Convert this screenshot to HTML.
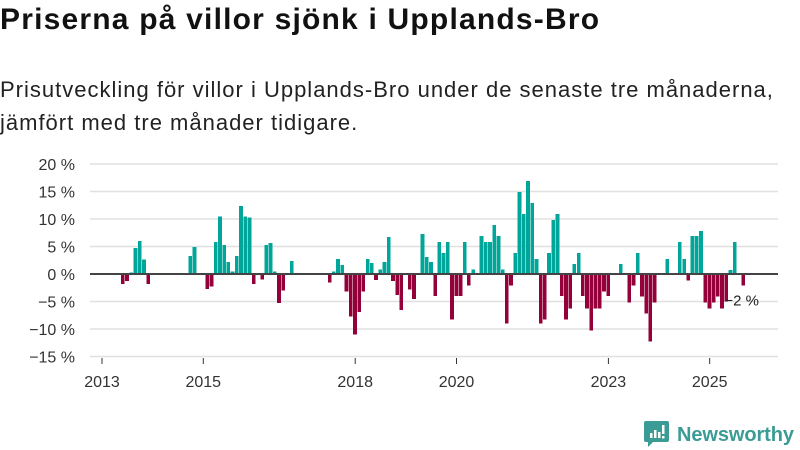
<!DOCTYPE html>
<html><head><meta charset="utf-8">
<style>
body{margin:0;width:800px;height:450px;background:#fff;font-family:"Liberation Sans",sans-serif;overflow:hidden;position:relative;color:#111}
h1{position:absolute;left:0;top:3px;margin:0;font-size:30px;font-weight:bold;letter-spacing:1.2px;white-space:nowrap}
.sub{position:absolute;left:0;top:73px;margin:0;font-size:22px;line-height:33px;color:#222;letter-spacing:1px;white-space:nowrap}
svg{position:absolute;left:0;top:0}
</style></head><body>
<h1>Priserna på villor sjönk i Upplands-Bro</h1>
<p class="sub">Prisutveckling för villor i Upplands-Bro under de senaste tre månaderna,<br>jämfört med tre månader tidigare.</p>
<svg id="chart" width="800" height="450"></svg>
<script>
const startYear = 2013, startMonth = 5;
const values = [-1.8,-1.3,0.3,4.7,6.0,2.6,-1.8,null,null,null,null,null,null,null,null,null,3.3,4.9,null,null,-2.7,-2.3,5.8,10.5,5.3,2.2,0.5,3.3,12.4,10.5,10.3,-1.8,null,-1.0,5.3,5.6,0.5,-5.3,-3,null,2.4,null,null,null,null,null,null,null,null,-1.5,0.5,2.7,1.6,-3.2,-7.7,-11,-6.9,-3.2,2.7,2.0,-1.1,0.8,2.2,6.7,-1.3,-3.8,-6.5,null,-2.8,-4.5,null,7.3,3.1,2.2,-4,5.8,3.8,5.8,-8.3,-4,-4,5.8,-2.1,0.8,null,6.9,5.8,5.8,8.9,6.9,0.8,-9,-2.1,3.8,14.9,10.9,16.9,12.9,2.7,-9,-8.3,3.8,9.8,10.9,-4,-8.3,-6.3,1.8,3.8,-4,-6.3,-10.3,-6.3,-6.3,-3.2,-4,null,null,1.8,null,-5.2,-2.1,3.8,-4.1,-7.2,-12.3,-5.2,null,null,2.7,null,null,5.8,2.7,-1.2,6.9,6.9,7.8,-5.2,-6.3,-5.2,-4.1,-6.3,-5,0.7,5.8,null,-2.1];
const yTicks = [20,15,10,5,0,-5,-10,-15];
const xTickYears = [2013,2015,2018,2020,2023,2025];
const lastLabel = "−2 %";

const NS="http://www.w3.org/2000/svg";
const svg=document.getElementById('chart');
const x0=121, step=4.22, bw=3.7;
function xScale(i){return x0+i*step;}
function yScale(v){return 274-v*5.5;}
function mk(tag,attrs,parent){const e=document.createElementNS(NS,tag);for(const k in attrs)e.setAttribute(k,attrs[k]);(parent||svg).appendChild(e);return e;}

const grid=mk('g',{});


yTicks.forEach(t=>{
  if(t!==0){const l=mk('line',{x1:90,x2:778,y1:yScale(t),y2:yScale(t),stroke:'#e0e0e0','stroke-width':1.5},grid);
  
  }
  const tx=mk('text',{x:75,y:yScale(t)+6,'text-anchor':'end','font-size':16,fill:'#333','font-family':'Liberation Sans, sans-serif'});
  tx.textContent=(t<0?'−'+(-t):t)+' %';
  
  
});
xTickYears.forEach(y=>{
  const i=(y-startYear)*12-(startMonth-1)-0.5;
  const xx=xScale(i);
  const l=mk('line',{x1:xx,x2:xx,y1:358,y2:364,stroke:'#333','stroke-width':1});
  
  
  const tx=mk('text',{x:xx,y:387,'text-anchor':'middle','font-size':16,fill:'#333'});
  tx.textContent=y;
  
  
});
const bars=mk('g',{'shape-rendering':'crispEdges'});


values.forEach((v,i)=>{
  if(v===null)return;
  const y=Math.min(yScale(v),yScale(0)), h=Math.abs(yScale(v)-yScale(0));
  const r=mk('rect',{x:xScale(i),y:y,width:bw,height:h,fill:v>=0?'#00a69a':'#94003a'},bars);
  
  
});
const zl=mk('line',{x1:90,x2:778,y1:274,y2:274,stroke:'#444','stroke-width':2});


const li=values.length-1;
const lb=mk('text',{x:xScale(li)-17,y:yScale(values[li])+20,'font-size':15,fill:'#222'});
lb.textContent=lastLabel;


</script>
<svg width="800" height="450" style="pointer-events:none">
<path d="M646 421 h21 a2 2 0 0 1 2 2 v17 a2 2 0 0 1 -2 2 h-14 l-5 5 v-5 h-2 a2 2 0 0 1 -2 -2 v-17 a2 2 0 0 1 2 -2z" fill="#3a9c94"/>
<rect x="650" y="433" width="2.5" height="5" fill="#fff"/><rect x="654" y="430" width="2.5" height="8" fill="#fff"/><rect x="658" y="432" width="2.5" height="6" fill="#fff"/><rect x="662" y="425" width="2.5" height="9" fill="#fff"/><rect x="662" y="436" width="2.5" height="2.5" fill="#fff"/>
<text x="677" y="441" font-size="20" font-weight="bold" fill="#3a9c94" font-family="Liberation Sans, sans-serif" textLength="117">Newsworthy</text>
</svg>
</body></html>
